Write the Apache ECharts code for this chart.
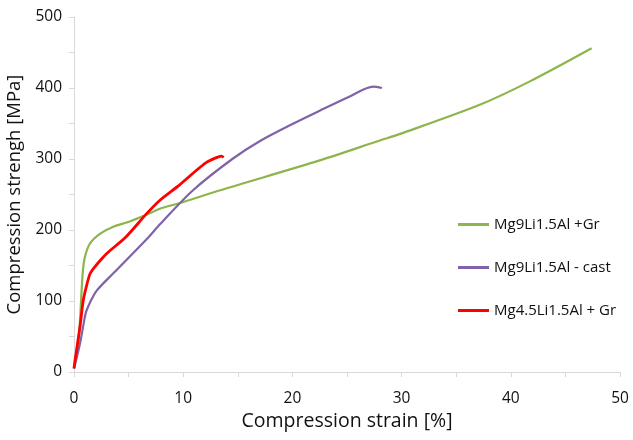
<!DOCTYPE html>
<html style="height: 100%">
  <head>
    <meta charset="utf-8" />
  </head>
  <body style="height: 100%; margin: 0; background: #fff">
    <div id="container" style="width: 633px; height: 440px"></div>
    <script type="text/javascript" src="https://cdn.jsdelivr.net/npm/echarts@6/dist/echarts.min.js"></script>
    <script type="text/javascript">
      // series names (legend order)
      var names = ['Mg9Li1.5Al +Gr', 'Mg9Li1.5Al - cast', 'Mg4.5Li1.5Al + Gr'];

      // strain [%] / strength [MPa]
      var greenX = [0, 0.4, 0.8, 1.0, 1.46, 2.4, 3.5, 5.1, 6.7, 7.87, 9.7, 13.4, 22.5, 28, 29.8, 37.1, 41.7, 47.4];
      var greenY = [5, 40, 140, 162, 181, 195, 204, 212, 222, 230, 238, 256, 298, 326, 335, 376, 409, 456];

      var purpleX = [0, 0.55, 1.0, 1.16, 1.5, 2.1, 3.6, 6.65, 7.87, 10.9, 14.5, 17, 20.1, 22.5, 25.25, 27.4, 28.2];
      var purpleY = [5, 40, 78, 87, 99, 115, 139, 187, 208, 256, 300, 325, 350, 368, 388, 402, 400];

      var redX = [0, 0.1, 0.55, 0.85, 1.16, 1.46, 1.8, 2.4, 3.0, 4.8, 6.65, 7.87, 9.7, 10.9, 12.1, 12.9, 13.5, 13.7];
      var redY = [5, 17, 64, 101, 122, 138, 146, 157, 167, 191, 223, 242, 264, 280, 295, 301, 304, 302];

      var xTicks = { min: 0, max: 50, interval: 10 };
      var yTicks = { min: 0, max: 500, interval: 100 };

      function pairs(xs, ys) {
        return xs.map(function (x, i) { return [x, ys[i]]; });
      }

      var myChart = echarts.init(document.getElementById('container'));
      var font = 'Open Sans';
      var axisGray = '#d9d9d9';

      function mkSeries(name, data, color, width) {
        return {
          name: name,
          type: 'line',
          data: data,
          smooth: 0.3,
          symbol: 'none',
          lineStyle: { color: color, width: width },
          itemStyle: { color: color }
        };
      }

      var option = {
        animation: false,
        textStyle: { fontFamily: font },
        grid: { left: 74, right: 13, top: 17, bottom: 68, outerBoundsMode: 'none', containLabel: false },
        legend: {
          orient: 'vertical',
          left: 453,
          top: 212,
          icon: 'rect',
          itemWidth: 31,
          itemHeight: 3,
          itemGap: 28,
          textStyle: { fontFamily: font, fontSize: 15, color: '#111' },
          data: names
        },
        xAxis: {
          type: 'value',
          min: xTicks.min,
          max: xTicks.max,
          interval: xTicks.interval,
          name: 'Compression strain [%]',
          nameLocation: 'middle',
          nameGap: 30,
          nameTextStyle: { fontSize: 19.5, color: '#111' },
          axisLine: { show: true, lineStyle: { color: axisGray } },
          axisTick: { show: true, length: 5, lineStyle: { color: axisGray } },
          minorTick: { show: true, splitNumber: 2, length: 5, lineStyle: { color: axisGray } },
          axisLabel: { fontSize: 15.5, color: '#111', margin: 19 },
          splitLine: { show: false }
        },
        yAxis: {
          type: 'value',
          min: yTicks.min,
          max: yTicks.max,
          interval: yTicks.interval,
          name: 'Compression strengh [MPa]',
          nameLocation: 'middle',
          nameGap: 46,
          nameTextStyle: { fontSize: 18.5, color: '#111' },
          axisLine: { show: true, lineStyle: { color: axisGray } },
          axisTick: { show: true, length: 5, lineStyle: { color: axisGray } },
          minorTick: { show: true, splitNumber: 2, length: 5, lineStyle: { color: axisGray } },
          axisLabel: { fontSize: 15.5, color: '#111', margin: 12 },
          splitLine: { show: false }
        },
        series: [
          mkSeries(names[0], pairs(greenX, greenY), '#8db54b', 2.2),
          mkSeries(names[1], pairs(purpleX, purpleY), '#7f62a8', 2.2),
          mkSeries(names[2], pairs(redX, redY), '#ff0000', 2.8)
        ]
      };

      myChart.setOption(option);
    </script>
  </body>
</html>
